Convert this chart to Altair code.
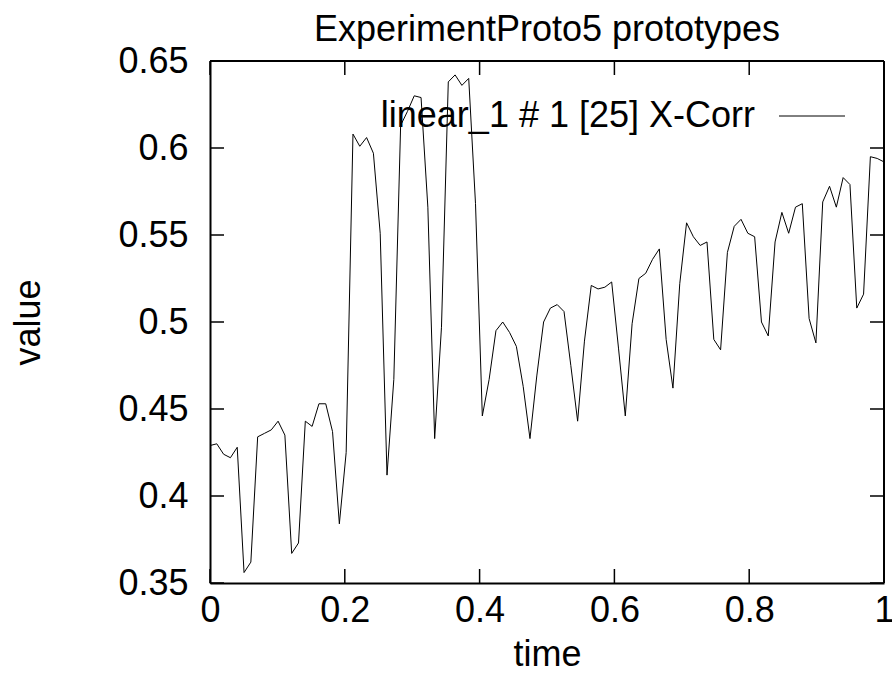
import altair as alt
import numpy as np
import pandas as pd

TITLE = "ExperimentProto5 prototypes"
SERIES_LABEL = "linear_1 # 1 [25] X-Corr"
X_TICKS = [0, 0.2, 0.4, 0.6, 0.8, 1]
Y_TICKS = [0.35, 0.4, 0.45, 0.5, 0.55, 0.6, 0.65]

values = [
    0.429, 0.430, 0.424, 0.422, 0.428, 0.356, 0.362, 0.434, 0.436, 0.438,
    0.443, 0.435, 0.367, 0.373, 0.443, 0.440, 0.453, 0.453, 0.437, 0.384,
    0.425, 0.608, 0.601, 0.606, 0.597, 0.551, 0.412, 0.467, 0.613, 0.621,
    0.630, 0.629, 0.566, 0.433, 0.497, 0.638, 0.642, 0.636, 0.640, 0.568,
    0.446, 0.467, 0.495, 0.500, 0.494, 0.486, 0.463, 0.433, 0.469, 0.500,
    0.508, 0.510, 0.506, 0.475, 0.443, 0.489, 0.521, 0.519, 0.520, 0.523,
    0.485, 0.446, 0.499, 0.525, 0.528, 0.536, 0.542, 0.490, 0.462, 0.522,
    0.557, 0.549, 0.544, 0.546, 0.490, 0.484, 0.540, 0.555, 0.559, 0.551,
    0.549, 0.500, 0.492, 0.546, 0.563, 0.551, 0.566, 0.568, 0.502, 0.488,
    0.569, 0.578, 0.566, 0.583, 0.579, 0.508, 0.516, 0.595, 0.594, 0.592,
]
time = np.linspace(0, 1, len(values))

FONT = "Liberation Sans"
FS = 36
W, H = 674, 522
TL = 14

df = pd.DataFrame({"time": time, "value": values})
xt = pd.DataFrame({"time": X_TICKS})
yt = pd.DataFrame({"value": Y_TICKS})
leg = pd.DataFrame({"label": [SERIES_LABEL]})

xscale = alt.Scale(domain=[0, 1], nice=False, zero=False)
yscale = alt.Scale(domain=[0.35, 0.65], nice=False, zero=False)

xaxis = alt.Axis(
    values=X_TICKS, format="~g", title="time", grid=False,
    domain=True, domainColor="black", domainWidth=2,
    ticks=False, labelPadding=10, labelFlush=False, labelOverlap=False,
    labelFont=FONT, labelFontSize=FS, labelColor="black",
    titleFont=FONT, titleFontSize=FS, titleFontWeight="normal", titleColor="black",
    titleY=82, titleBaseline="alphabetic")
yaxis = alt.Axis(
    values=Y_TICKS, format="~g", title="value", grid=False,
    domain=True, domainColor="black", domainWidth=2,
    ticks=False, labelPadding=22, labelFlush=False, labelOverlap=False,
    labelFont=FONT, labelFontSize=FS, labelColor="black",
    titleFont=FONT, titleFontSize=FS, titleFontWeight="normal", titleColor="black",
    titleX=-182, titleY=H / 2, titleAngle=-90, titleAlign="center", titleBaseline="middle")

line = alt.Chart(df).mark_line(color="black", strokeWidth=1).encode(
    x=alt.X("time:Q", scale=xscale, axis=xaxis),
    y=alt.Y("value:Q", scale=yscale, axis=yaxis),
)

tick_style = dict(color="black", strokeWidth=1.5)
yl = alt.Chart(yt).mark_rule(**tick_style).encode(
    y=alt.Y("value:Q", scale=yscale), x=alt.value(0), x2=alt.value(TL))
yr = alt.Chart(yt).mark_rule(**tick_style).encode(
    y=alt.Y("value:Q", scale=yscale), x=alt.value(W - TL), x2=alt.value(W))
xb = alt.Chart(xt).mark_rule(**tick_style).encode(
    x=alt.X("time:Q", scale=xscale), y=alt.value(H - TL), y2=alt.value(H))
xtp = alt.Chart(xt).mark_rule(**tick_style).encode(
    x=alt.X("time:Q", scale=xscale), y=alt.value(0), y2=alt.value(TL))

frame_top = alt.Chart(leg).mark_rule(color="black", strokeWidth=2).encode(
    x=alt.value(0), x2=alt.value(W), y=alt.value(0))
frame_right = alt.Chart(leg).mark_rule(color="black", strokeWidth=2).encode(
    x=alt.value(W), y=alt.value(0), y2=alt.value(H))

leg_text = alt.Chart(leg).mark_text(
    align="right", baseline="middle", font=FONT, fontSize=FS, color="black"
).encode(x=alt.value(545), y=alt.value(55), text="label:N")
leg_line = alt.Chart(leg).mark_rule(color="black", strokeWidth=1).encode(
    x=alt.value(569), x2=alt.value(635), y=alt.value(55))

chart = alt.layer(yl, yr, xb, xtp, line, frame_top, frame_right, leg_text, leg_line).properties(
    width=W, height=H,
    title=alt.TitleParams(TITLE, font=FONT, fontSize=FS, fontWeight="normal",
                          color="black", anchor="middle", offset=12, dy=18),
    autosize=alt.AutoSizeParams(type="none"),
    padding={"left": 210, "top": 61, "right": 8, "bottom": 93},
).configure(background="white")

chart.save("out.html", embed_options={"renderer": "svg", "actions": False})
